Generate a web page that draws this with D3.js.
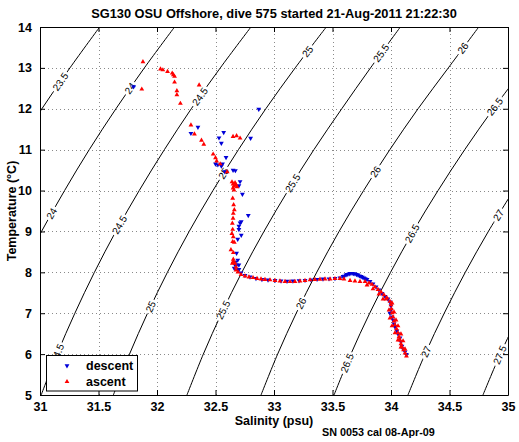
<!DOCTYPE html>
<html><head><meta charset="utf-8">
<script src="https://cdn.jsdelivr.net/npm/d3@7"></script>
<style>
body{margin:0;background:#fff}
text{font-family:"Liberation Sans",Arial,Helvetica,sans-serif}
</style>
</head><body>
<svg id="c" width="519" height="442"></svg>
<script>
// ---------- data ----------
const salinityTicks = [31, 31.5, 32, 32.5, 33, 33.5, 34, 34.5, 35];
const temperatureTicks = [5, 6, 7, 8, 9, 10, 11, 12, 13, 14];
const titleText = "SG130 OSU Offshore, dive 575 started 21-Aug-2011 21:22:30";
const xLabel = "Salinity (psu)";
const yLabel = "Temperature (\u00B0C)";
const footText = "SN 0053 cal 08-Apr-09";
const seriesNames = ["descent", "ascent"];

// isopycnals (sigma-theta), [salinity, temperature] points
const iso235 = [[30.793,11],[31.016,12],[31.256,13],[31.51,14]];
const iso240 = [[30.833,8],[31.013,9],[31.210,10],[31.421,11],[31.649,12],[31.892,13],[32.15,14]];
const iso245 = [[31.01,5],[31.146,6],[31.298,7],[31.465,8],[31.648,9],[31.848,10],[32.063,11],[32.293,12],[32.541,13],[32.803,14]];
const iso250 = [[31.627,5],[31.765,6],[31.919,7],[32.089,8],[32.275,9],[32.478,10],[32.696,11],[32.930,12],[33.181,13],[33.447,14]];
const iso255 = [[32.256,5],[32.396,6],[32.552,7],[32.725,8],[32.914,9],[33.120,10],[33.341,11],[33.579,12],[33.825,13],[34.08,14]];
const iso260 = [[32.889,5],[33.031,6],[33.190,7],[33.365,8],[33.556,9],[33.766,10],[33.990,11],[34.231,12],[34.490,13],[34.75,14]];
const iso265 = [[33.513,5],[33.657,6],[33.818,7],[33.996,8],[34.190,9],[34.402,10],[34.630,11],[34.875,12],[35.137,13]];
const iso270 = [[34.145,5],[34.291,6],[34.455,7],[34.635,8],[34.832,9],[35.047,10]];
const iso275 = [[34.786,5],[34.934,6],[35.100,7]];
const contourLevels = [23.5, 24, 24.5, 25, 25.5, 26, 26.5, 27, 27.5];
const contourLines = [iso235, iso240, iso245, iso250, iso255, iso260, iso265, iso270, iso275];
// label placements: [level, temperature along the line]
const contourLabelAt = [
  [23.5,12.66],
  [24,12.50],[24,9.44],
  [24.5,12.30],[24.5,9.16],[24.5,6.02],
  [25,13.40],[25,10.42],[25,7.16],
  [25.5,13.36],[25.5,10.18],[25.5,7.08],
  [26,13.48],[26,10.46],[26,7.24],
  [26.5,12.05],[26.5,8.95],[26.5,5.78],
  [27,9.40],[27,6.06],
  [27.5,5.98]
];

// descent (blue) samples [salinity, temperature]
const descent = [
[31.80,12.54],[32.29,11.40],[32.35,11.55],[32.53,11.29],[32.55,11.16],[32.57,11.42],[32.80,11.28],[32.87,11.99],
[32.59,10.81],[32.52,10.63],[32.55,10.60],[32.56,10.65],[32.50,10.65],[32.65,10.50],[32.67,10.49],[32.58,10.46],
[32.71,10.22],[32.70,10.12],[32.73,9.91],[32.78,9.39],[32.71,9.21],[32.72,9.24],[32.70,9.13],[32.70,9.05],
[32.72,8.91],[32.69,8.81],[32.68,8.47],[32.69,8.30],[32.70,8.18],[32.70,8.07],[32.66,8.10],[32.68,8.18],[32.67,8.25],
[32.667,8.180],[32.692,8.057],[32.718,7.984],[32.752,7.923],[32.795,7.886],[32.846,7.849],[32.897,7.825],[32.949,7.813],
[33.009,7.800],[33.060,7.788],[33.111,7.783],[33.162,7.788],[33.214,7.796],[33.265,7.805],[33.316,7.818],[33.368,7.830],
[33.419,7.837],[33.470,7.842],[33.521,7.849],[33.564,7.867],[33.590,7.898],[33.600,7.910],[33.615,7.935],[33.625,7.950],
[33.641,7.960],[33.650,7.975],[33.667,7.977],[33.680,7.970],[33.692,7.964],[33.705,7.950],[33.718,7.935],[33.730,7.915],
[33.744,7.898],[33.755,7.880],[33.769,7.862],[33.780,7.845],[33.795,7.825],[33.821,7.776],[33.846,7.715],[33.872,7.642],
[33.897,7.568],[33.923,7.483],[33.949,7.409],[33.974,7.348],[33.991,7.275],[34.000,7.177],[34.000,7.079],[33.991,7.000],
[34.009,6.908],[34.017,6.834],[34.026,6.737],[34.034,6.663],[34.051,6.565],[34.060,6.492],[34.077,6.394],[34.085,6.296],
[34.094,6.198],[34.103,6.125],[34.120,6.052],[34.132,5.991]
];

// ascent (red) samples [salinity, temperature]
const ascent = [
[31.88,13.15],[31.87,12.48],[32.03,12.97],[32.05,12.95],[32.09,12.91],[32.13,12.87],[32.14,12.83],[32.15,12.79],
[32.15,12.65],[32.17,12.44],[32.17,12.34],[32.20,12.13],[32.36,12.58],[32.29,11.60],[32.32,11.38],[32.38,11.23],
[32.40,11.13],[32.48,10.89],[32.50,10.80],[32.51,10.72],[32.54,10.65],[32.65,11.32],[32.68,11.34],[32.71,11.28],[32.60,10.46],
[32.641,10.21],[32.650,10.16],[32.658,10.11],[32.667,10.19],[32.675,10.14],[32.650,10.06],[32.684,10.09],[32.658,10.01],
[32.647,9.81],[32.655,9.65],[32.661,9.53],[32.652,9.44],[32.650,9.32],[32.644,9.20],[32.647,9.05],[32.640,8.95],
[32.652,8.87],[32.647,8.75],[32.661,8.73],[32.632,8.55],[32.652,8.48],[32.652,8.32],[32.667,8.22],[32.644,8.22],
[32.652,8.26],[32.675,8.13],
[32.675,8.057],[32.692,8.008],[32.718,7.947],[32.752,7.910],[32.786,7.886],[32.821,7.869],[32.855,7.849],[32.889,7.837],
[32.923,7.825],[32.966,7.813],[33.009,7.800],[33.051,7.788],[33.094,7.776],[33.137,7.771],[33.179,7.776],[33.222,7.788],
[33.265,7.800],[33.308,7.813],[33.350,7.825],[33.393,7.830],[33.436,7.837],[33.479,7.837],[33.521,7.844],[33.564,7.849],
[33.598,7.837],[33.650,7.800],[33.692,7.788],[33.735,7.776],[33.778,7.771],[33.812,7.739],[33.838,7.703],[33.863,7.642],
[33.889,7.580],[33.915,7.519],[33.940,7.446],[33.966,7.373],[33.991,7.287],[34.000,7.202],[34.004,7.104],[34.009,7.006],
[34.017,6.908],[34.026,6.810],[34.034,6.713],[34.047,6.615],[34.060,6.517],[34.068,6.419],[34.077,6.345],[34.085,6.248],
[34.094,6.174],[34.107,6.101],[34.120,6.027],[34.132,5.954],
[33.795,7.690],[33.846,7.593],[33.897,7.470],[33.932,7.348],[33.957,7.348],[34.009,7.250],[33.983,7.079],[34.026,7.030],
[33.991,6.883],[34.043,6.834],[34.009,6.688],[34.060,6.688],[34.034,6.517],[34.085,6.492],[34.060,6.345],[34.103,6.321],
[34.085,6.174],[34.120,6.125]
];

// ---------- drawing ----------
const L = 40, R = 508, T = 27, B = 395;
const x = d3.scaleLinear().domain([31, 35]).range([L, R]);
const y = d3.scaleLinear().domain([5, 14]).range([B, T]);
const svg = d3.select("#c");
const defs = svg.append("defs");
defs.append("clipPath").attr("id", "plotclip")
  .append("rect").attr("x", L).attr("y", T).attr("width", R - L).attr("height", B - T);

svg.append("rect").attr("width", 519).attr("height", 442).attr("fill", "#fff");

// grid
const grid = svg.append("g").attr("stroke", "#8a8a8a").attr("stroke-width", 1)
  .attr("stroke-dasharray", "1,3").attr("shape-rendering", "crispEdges");
salinityTicks.slice(1, -1).forEach(s => grid.append("line")
  .attr("x1", Math.round(x(s)) + 0.5).attr("x2", Math.round(x(s)) + 0.5).attr("y1", B).attr("y2", T));
temperatureTicks.slice(1, -1).forEach(t => grid.append("line")
  .attr("y1", Math.round(y(t)) + 0.5).attr("y2", Math.round(y(t)) + 0.5).attr("x1", L).attr("x2", R));

// contour labels (position along each line)
function pointAt(line, t) {
  for (let i = 0; i < line.length - 1; i++) {
    const a = line[i], b = line[i + 1];
    if (t >= a[1] && t <= b[1]) {
      const f = (t - a[1]) / (b[1] - a[1]);
      const s = a[0] + f * (b[0] - a[0]);
      const ang = Math.atan2(y(b[1]) - y(a[1]), x(b[0]) - x(a[0])) * 180 / Math.PI;
      return [x(s), y(t), ang];
    }
  }
  return null;
}
const labG = svg.append("g").attr("clip-path", "url(#plotclip)");
const labelInfo = [];
contourLabelAt.forEach(([lev, t]) => {
  const line = contourLines[contourLevels.indexOf(lev)];
  const p = pointAt(line, t);
  if (!p) return;
  const txt = labG.append("text")
    .attr("transform", `translate(${p[0]},${p[1]}) rotate(${p[2]})`)
    .attr("text-anchor", "middle").attr("dy", "0.35em")
    .attr("font-size", 10).attr("fill", "#000").text(String(lev));
  labelInfo.push({p, w: txt.node().getComputedTextLength()});
});

// mask cutting gaps in contour lines at labels
const mask = defs.append("mask").attr("id", "labmask").attr("maskUnits", "userSpaceOnUse")
  .attr("x", 0).attr("y", 0).attr("width", 519).attr("height", 442);
mask.append("rect").attr("width", 519).attr("height", 442).attr("fill", "#fff");
labelInfo.forEach(({p, w}) => {
  mask.append("rect").attr("x", -w / 2 - 2).attr("y", -5).attr("width", w + 4).attr("height", 10)
    .attr("transform", `translate(${p[0]},${p[1]}) rotate(${p[2]})`).attr("fill", "#000");
});

const lineGen = d3.line().x(d => x(d[0])).y(d => y(d[1])).curve(d3.curveCatmullRom);
const cG = svg.append("g").attr("clip-path", "url(#plotclip)").append("g").attr("mask", "url(#labmask)");
contourLines.forEach(l => cG.append("path").attr("d", lineGen(l))
  .attr("fill", "none").attr("stroke", "#000").attr("stroke-width", 1));

// data points
const pts = svg.append("g").attr("clip-path", "url(#plotclip)");
const tri = d3.symbol().type(d3.symbolTriangle).size(10);
pts.selectAll("path.d").data(descent).join("path").attr("class", "d")
  .attr("d", tri).attr("fill", "#0000d8")
  .attr("transform", d => `translate(${x(d[0])},${y(d[1])}) rotate(180)`);
pts.selectAll("path.a").data(ascent).join("path").attr("class", "a")
  .attr("d", tri).attr("fill", "#ff0000")
  .attr("transform", d => `translate(${x(d[0])},${y(d[1])})`);

// axes
const fmt = d3.format("");
function styleAxis(g) {
  g.select(".domain").attr("stroke", "#000");
  g.selectAll(".tick line").attr("stroke", "#000");
  g.selectAll("text").attr("font-size", 12.5).attr("font-weight", "bold").attr("fill", "#000")
    .attr("font-family", '"Liberation Sans",Arial,Helvetica,sans-serif');
}
svg.append("g").attr("transform", `translate(0,${B})`)
  .call(d3.axisBottom(x).tickValues(salinityTicks).tickFormat(fmt).tickSize(-5).tickSizeOuter(0).tickPadding(7)).call(styleAxis);
svg.append("g").attr("transform", `translate(0,${T})`)
  .call(d3.axisTop(x).tickValues(salinityTicks).tickFormat("").tickSize(-5).tickSizeOuter(0)).call(styleAxis);
svg.append("g").attr("transform", `translate(${L},0)`)
  .call(d3.axisLeft(y).tickValues(temperatureTicks).tickFormat(fmt).tickSize(-5).tickSizeOuter(0).tickPadding(8)).call(styleAxis);
svg.append("g").attr("transform", `translate(${R},0)`)
  .call(d3.axisRight(y).tickValues(temperatureTicks).tickFormat("").tickSize(-5).tickSizeOuter(0)).call(styleAxis);

// titles
svg.append("text").attr("x", 274).attr("y", 18).attr("text-anchor", "middle")
  .attr("font-size", 12.8).attr("font-weight", "bold").text(titleText);
svg.append("text").attr("x", 274).attr("y", 425).attr("text-anchor", "middle")
  .attr("font-size", 12.5).attr("font-weight", "bold").text(xLabel);
svg.append("text").attr("transform", "translate(15.5,211) rotate(-90)").attr("text-anchor", "middle")
  .attr("font-size", 12.5).attr("font-weight", "bold").text(yLabel);
svg.append("text").attr("x", 322).attr("y", 436).attr("font-size", 10.8).attr("font-weight", "bold").text(footText);

// legend
const lg = svg.append("g");
lg.append("rect").attr("x", 46.5).attr("y", 355.5).attr("width", 91).attr("height", 35.5)
  .attr("fill", "#fff").attr("stroke", "#000").attr("stroke-width", 1);
const legColors = ["#0000d8", "#ff0000"];
seriesNames.forEach((n, i) => {
  const cy = 365.7 + i * 16;
  lg.append("path").attr("d", tri).attr("fill", legColors[i])
    .attr("transform", `translate(67,${cy})` + (i === 0 ? " rotate(180)" : ""));
  lg.append("text").attr("x", 86).attr("y", cy).attr("dy", "0.35em")
    .attr("font-size", 12.5).attr("font-weight", "bold").text(n);
});
</script>
</body></html>
